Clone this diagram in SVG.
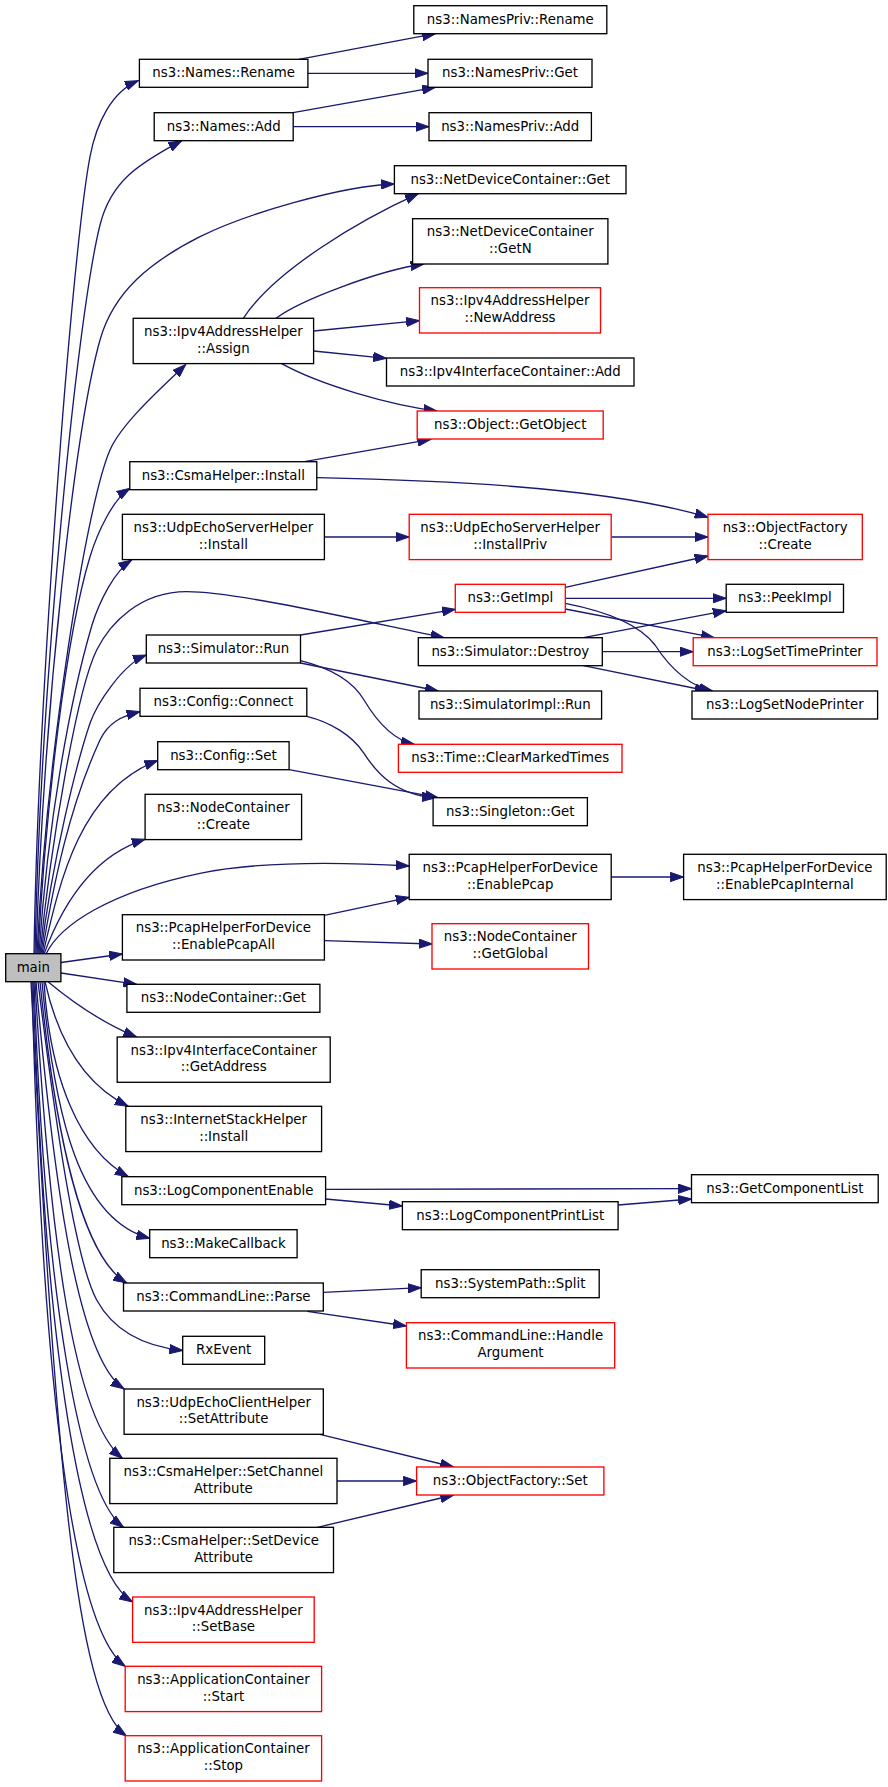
<svg xmlns="http://www.w3.org/2000/svg" width="888" height="1787" viewBox="0 0 888 1787">
<style>
.n rect{fill:#ffffff;stroke:#000000;stroke-width:1.33}
.r rect{fill:#ffffff;stroke:#ff0000;stroke-width:1.33}
.m rect{fill:#bfbfbf;stroke:#000000;stroke-width:1.33}
text{font-family:"DejaVu Sans","Liberation Sans",sans-serif;font-size:13.33px;text-anchor:middle;fill:#000000}
#edges path{fill:none;stroke:#191970;stroke-width:1.33;marker-end:url(#a)}
</style>
<defs>
<marker id="a" markerUnits="userSpaceOnUse" markerWidth="14" markerHeight="10" viewBox="0 0 14 10" refX="13.3" refY="5" orient="auto">
<path d="M0,0.35 L13.3,5 L0,9.65 Z" fill="#191970" stroke="#191970" stroke-width="1"/>
</marker>
</defs>
<rect width="888" height="1787" fill="#ffffff"/>
<g id="edges">
<path d="M34,954 C38,700 71.5,254.7 90,156.7 C96.5,122.4 112,91.5 138.3,80.7"/>
<path d="M35,954 C40,700 75.8,322 100,225 C110.9,181.3 138,164.2 181.7,140.7"/>
<path d="M36,954 C44,700 75.7,426.7 100,340 C113.5,291.8 150,262 200,236.7 C244.7,214.3 340,186 394.4,184"/>
<path d="M37,954 C46,760 86,505 110,450 C122,422.5 163.8,385.7 185.7,364.5"/>
<path d="M38,954 C46,800 66.8,633.3 90,556.7 C97.3,532.8 113,498.9 130,488.3"/>
<path d="M39,954 C48,820 70,700 92,625 C99.5,601 114.5,571 131.7,560"/>
<path d="M40,954 C50,850 76.6,690.3 96.7,650 C110.1,623.2 140,591.7 186.7,591.7 C240,591.7 380,625 444,637.7"/>
<path d="M41,954 C52,860 77.2,761.2 90,723.3 C96.4,704.4 122.5,664.3 146.3,655"/>
<path d="M42,954 C54,880 70,805 100,740 C108.4,722 122.5,716 140,711.7"/>
<path d="M43,954 C60,880 80,790 157.7,760.5"/>
<path d="M44,954 C64,900 95,855 145.1,839.3"/>
<path d="M46,954 C60,925 110,892 200,873.3 C260,861 340,862 409.2,866"/>
<path d="M61,962.5 L122.4,954"/>
<path d="M61,973 L136.6,984.3"/>
<path d="M48,981.7 C70,1000 100,1022 136.6,1037"/>
<path d="M45,981.7 C58,1040 85,1085 128.3,1106.3"/>
<path d="M44,981.7 C50,1080 80,1150 128.3,1176.7"/>
<path d="M42,981.7 C55,1120 80,1220 149.7,1238.3"/>
<path d="M40,981.7 C55,1130 80,1255 126.7,1283"/>
<path d="M38,981.7 C55,1120 75,1260 96.7,1300 C112,1328 140,1346 182.7,1350.5"/>
<path d="M36,981.7 C55,1200 80,1360 124.1,1389"/>
<path d="M35,981.7 C50,1250 75,1420 122.4,1458.3"/>
<path d="M34,981.7 C45,1300 80,1495 123.5,1527.3"/>
<path d="M33,981.7 C45,1350 80,1570 132.6,1602"/>
<path d="M32,981.7 C42,1400 75,1630 125.2,1666.3"/>
<path d="M31,981.7 C55,1450 75,1700 126.4,1736"/>
<path d="M298.8,59.3 L435.4,33.7"/>
<path d="M307.9,73.3 L428,73.3"/>
<path d="M293,112.7 L435.4,87.3"/>
<path d="M293.1,126.7 L429,126.7"/>
<path d="M243.3,318.3 C275,270 360,220 418.3,193.7"/>
<path d="M276,318.3 C300,300 380,270 424,264"/>
<path d="M313.6,331 L419.5,320.7"/>
<path d="M313.6,351 L386.5,358.3"/>
<path d="M281.7,363.7 C320,385 390,405 437,411"/>
<path d="M304.5,461.7 L430.8,439.3"/>
<path d="M317,477.7 C420,480 600,485 708,517.3"/>
<path d="M324.4,537 L409.2,537"/>
<path d="M611.3,537 L708,537"/>
<path d="M565.2,587.3 L708,556"/>
<path d="M565.2,598.3 L726.2,598.3"/>
<path d="M565.2,609 L714.3,637.7"/>
<path d="M565.2,603.3 C610,612 640,625 655,645 C670,668 690,686 712.6,691"/>
<path d="M300.5,635 L455.3,609.3"/>
<path d="M300.5,663 L438.2,691"/>
<path d="M300.5,660.7 C330,668 352,680 364,700 C376,720 392,740 414.3,744.3"/>
<path d="M583.4,637.7 L726.2,610.7"/>
<path d="M602.2,651.7 L693.2,651.7"/>
<path d="M583.4,665.7 L708,691"/>
<path d="M306.8,716.3 C330,722 352,735 364,753.3 C376,772 395,795 435.4,797.7"/>
<path d="M289.1,769.7 L438.2,797.7"/>
<path d="M324.4,915.3 L409.2,897.3"/>
<path d="M324.4,940.7 L432,944"/>
<path d="M611.3,877 L683.6,877"/>
<path d="M325.6,1189.3 L691.5,1188.7"/>
<path d="M325.6,1199 L402.4,1206"/>
<path d="M618.1,1205 L691.5,1199"/>
<path d="M323.3,1292.3 L421.2,1287.7"/>
<path d="M307.3,1311.3 L406.4,1326"/>
<path d="M319.9,1434.3 L453.6,1467"/>
<path d="M337,1481 L416.6,1481"/>
<path d="M317.6,1527.3 L453.6,1495"/>
</g>
<g id="n_namespriv_rename" class="n"><rect x="413.8" y="5.7" width="193" height="28"/><text x="510.3" y="23.7">ns3::NamesPriv::Rename</text></g>
<g id="n_names_rename" class="n"><rect x="139.4" y="59.3" width="168.5" height="28"/><text x="223.65" y="77.3">ns3::Names::Rename</text></g>
<g id="n_namespriv_get" class="n"><rect x="428" y="59.3" width="164" height="28"/><text x="510" y="77.3">ns3::NamesPriv::Get</text></g>
<g id="n_names_add" class="n"><rect x="154.2" y="112.7" width="139" height="28"/><text x="223.7" y="130.7">ns3::Names::Add</text></g>
<g id="n_namespriv_add" class="n"><rect x="429" y="112.7" width="162.4" height="28"/><text x="510.2" y="130.7">ns3::NamesPriv::Add</text></g>
<g id="n_ndc_get" class="n"><rect x="394.4" y="165.7" width="231.6" height="28"/><text x="510.2" y="183.7">ns3::NetDeviceContainer::Get</text></g>
<g id="n_ndc_getn" class="n"><rect x="412.6" y="218.7" width="195.3" height="45.3"/><text x="510.25" y="236.2">ns3::NetDeviceContainer</text><text x="510.25" y="253">::GetN</text></g>
<g id="n_newaddress" class="r"><rect x="419.5" y="287.7" width="181" height="45.3"/><text x="510" y="305.2">ns3::Ipv4AddressHelper</text><text x="510" y="322">::NewAddress</text></g>
<g id="n_assign" class="n"><rect x="133.2" y="318.3" width="180.4" height="45.3"/><text x="223.4" y="335.8">ns3::Ipv4AddressHelper</text><text x="223.4" y="352.6">::Assign</text></g>
<g id="n_ipv4ic_add" class="n"><rect x="386.5" y="358" width="247.5" height="28"/><text x="510.25" y="376">ns3::Ipv4InterfaceContainer::Add</text></g>
<g id="n_getobject" class="r"><rect x="417.2" y="411" width="186" height="28"/><text x="510.2" y="429">ns3::Object::GetObject</text></g>
<g id="n_csma_install" class="n"><rect x="129.8" y="461.7" width="187" height="28"/><text x="223.3" y="479.7">ns3::CsmaHelper::Install</text></g>
<g id="n_udpserver_install" class="n"><rect x="122.4" y="514.3" width="202" height="45.3"/><text x="223.4" y="531.8">ns3::UdpEchoServerHelper</text><text x="223.4" y="548.6">::Install</text></g>
<g id="n_installpriv" class="r"><rect x="409.2" y="514.3" width="202" height="45.3"/><text x="510.2" y="531.8">ns3::UdpEchoServerHelper</text><text x="510.2" y="548.6">::InstallPriv</text></g>
<g id="n_of_create" class="r"><rect x="708" y="514.3" width="154.3" height="45.3"/><text x="785.15" y="531.8">ns3::ObjectFactory</text><text x="785.15" y="548.6">::Create</text></g>
<g id="n_getimpl" class="r"><rect x="455.3" y="584.3" width="110" height="28"/><text x="510.3" y="602.3">ns3::GetImpl</text></g>
<g id="n_peekimpl" class="n"><rect x="726.2" y="584.3" width="117.3" height="28"/><text x="784.85" y="602.3">ns3::PeekImpl</text></g>
<g id="n_sim_run" class="n"><rect x="146.3" y="635" width="154.2" height="28"/><text x="223.4" y="653">ns3::Simulator::Run</text></g>
<g id="n_sim_destroy" class="n"><rect x="418.3" y="637.7" width="184" height="28"/><text x="510.3" y="655.7">ns3::Simulator::Destroy</text></g>
<g id="n_logsettime" class="r"><rect x="693.2" y="637.7" width="183.8" height="28"/><text x="785.1" y="655.7">ns3::LogSetTimePrinter</text></g>
<g id="n_simimpl_run" class="n"><rect x="419" y="691" width="182.6" height="28"/><text x="510.3" y="709">ns3::SimulatorImpl::Run</text></g>
<g id="n_logsetnode" class="n"><rect x="692" y="691" width="185.6" height="28"/><text x="784.8" y="709">ns3::LogSetNodePrinter</text></g>
<g id="n_config_connect" class="n"><rect x="140" y="688.3" width="166.8" height="28"/><text x="223.4" y="706.3">ns3::Config::Connect</text></g>
<g id="n_clearmarked" class="r"><rect x="398.4" y="744.3" width="223.6" height="28"/><text x="510.2" y="762.3">ns3::Time::ClearMarkedTimes</text></g>
<g id="n_config_set" class="n"><rect x="157.7" y="741.7" width="131.4" height="28"/><text x="223.4" y="759.7">ns3::Config::Set</text></g>
<g id="n_singleton_get" class="n"><rect x="433.1" y="797.7" width="154.3" height="28"/><text x="510.25" y="815.7">ns3::Singleton::Get</text></g>
<g id="n_nc_create" class="n"><rect x="145.1" y="794.3" width="156.5" height="45.3"/><text x="223.35" y="811.8">ns3::NodeContainer</text><text x="223.35" y="828.6">::Create</text></g>
<g id="n_enablepcap" class="n"><rect x="409.2" y="854.3" width="202" height="45.3"/><text x="510.2" y="871.8">ns3::PcapHelperForDevice</text><text x="510.2" y="888.6">::EnablePcap</text></g>
<g id="n_enablepcapinternal" class="n"><rect x="683.6" y="854.3" width="202.6" height="45.3"/><text x="784.9" y="871.8">ns3::PcapHelperForDevice</text><text x="784.9" y="888.6">::EnablePcapInternal</text></g>
<g id="n_enablepcapall" class="n"><rect x="122.4" y="914.7" width="202" height="45.3"/><text x="223.4" y="932.2">ns3::PcapHelperForDevice</text><text x="223.4" y="949">::EnablePcapAll</text></g>
<g id="n_getglobal" class="r"><rect x="432" y="923.7" width="156.5" height="45.3"/><text x="510.25" y="941.2">ns3::NodeContainer</text><text x="510.25" y="958">::GetGlobal</text></g>
<g id="n_main" class="m"><rect x="5.7" y="953.7" width="55.2" height="28"/><text x="33.3" y="971.7">main</text></g>
<g id="n_nc_get" class="n"><rect x="126.9" y="984.3" width="193" height="28"/><text x="223.4" y="1002.3">ns3::NodeContainer::Get</text></g>
<g id="n_getaddress" class="n"><rect x="117.2" y="1037" width="213" height="45.3"/><text x="223.7" y="1054.5">ns3::Ipv4InterfaceContainer</text><text x="223.7" y="1071.3">::GetAddress</text></g>
<g id="n_internetstack" class="n"><rect x="125.8" y="1106.3" width="195.8" height="45.3"/><text x="223.7" y="1123.8">ns3::InternetStackHelper</text><text x="223.7" y="1140.6">::Install</text></g>
<g id="n_logcompenable" class="n"><rect x="121.8" y="1176.7" width="203.8" height="28"/><text x="223.7" y="1194.7">ns3::LogComponentEnable</text></g>
<g id="n_getcomplist" class="n"><rect x="691.5" y="1174.7" width="186.7" height="28"/><text x="784.85" y="1192.7">ns3::GetComponentList</text></g>
<g id="n_logcompprint" class="n"><rect x="402.4" y="1201.7" width="215.7" height="28"/><text x="510.25" y="1219.7">ns3::LogComponentPrintList</text></g>
<g id="n_makecallback" class="n"><rect x="149.7" y="1229.7" width="147.4" height="28"/><text x="223.4" y="1247.7">ns3::MakeCallback</text></g>
<g id="n_split" class="n"><rect x="421.2" y="1269.7" width="178" height="28"/><text x="510.2" y="1287.7">ns3::SystemPath::Split</text></g>
<g id="n_parse" class="n"><rect x="123.5" y="1283" width="199.8" height="28"/><text x="223.4" y="1301">ns3::CommandLine::Parse</text></g>
<g id="n_handlearg" class="r"><rect x="406.4" y="1322.7" width="208.3" height="45.3"/><text x="510.55" y="1340.2">ns3::CommandLine::Handle</text><text x="510.55" y="1357">Argument</text></g>
<g id="n_rxevent" class="n"><rect x="182.7" y="1336.3" width="82" height="28"/><text x="223.7" y="1354.3">RxEvent</text></g>
<g id="n_udpclient_setattr" class="n"><rect x="124.1" y="1389" width="199.2" height="45.3"/><text x="223.7" y="1406.5">ns3::UdpEchoClientHelper</text><text x="223.7" y="1423.3">::SetAttribute</text></g>
<g id="n_setchannelattr" class="n"><rect x="109.8" y="1458.3" width="227.2" height="45.3"/><text x="223.4" y="1475.8">ns3::CsmaHelper::SetChannel</text><text x="223.4" y="1492.6">Attribute</text></g>
<g id="n_of_set" class="r"><rect x="416.6" y="1467" width="187.3" height="28"/><text x="510.25" y="1485">ns3::ObjectFactory::Set</text></g>
<g id="n_setdeviceattr" class="n"><rect x="113.8" y="1527.3" width="219.7" height="45.3"/><text x="223.65" y="1544.8">ns3::CsmaHelper::SetDevice</text><text x="223.65" y="1561.6">Attribute</text></g>
<g id="n_setbase" class="r"><rect x="132.6" y="1597" width="181.6" height="45.3"/><text x="223.4" y="1614.5">ns3::Ipv4AddressHelper</text><text x="223.4" y="1631.3">::SetBase</text></g>
<g id="n_app_start" class="r"><rect x="125.2" y="1666.3" width="196.4" height="45.3"/><text x="223.4" y="1683.8">ns3::ApplicationContainer</text><text x="223.4" y="1700.6">::Start</text></g>
<g id="n_app_stop" class="r"><rect x="125.2" y="1735.7" width="196.4" height="45.3"/><text x="223.4" y="1753.2">ns3::ApplicationContainer</text><text x="223.4" y="1770">::Stop</text></g>
</svg>
